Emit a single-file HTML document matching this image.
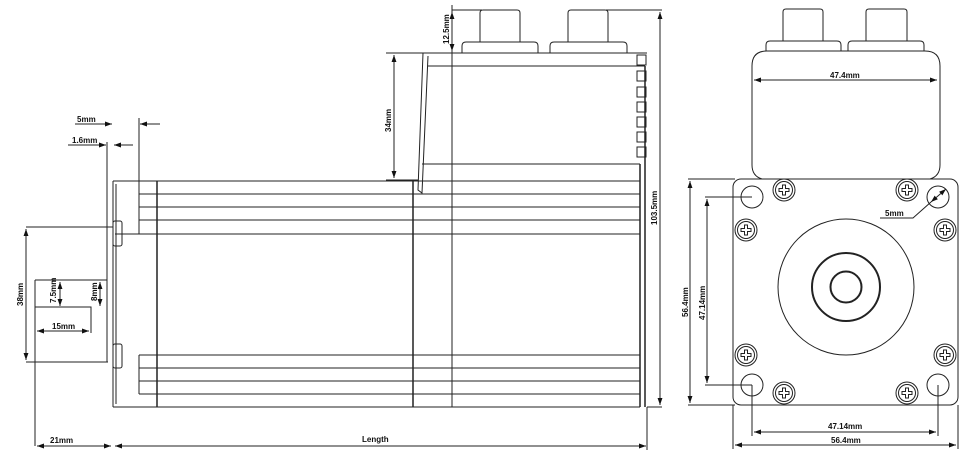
<!DOCTYPE html><html><head><style>body{margin:0;background:#fff}svg{display:block}text{font-family:"Liberation Sans",sans-serif;font-size:8px;font-weight:bold;fill:#111}</style></head><body>
<svg width="961" height="453" viewBox="0 0 961 453" xmlns="http://www.w3.org/2000/svg">
<defs><marker id="a" viewBox="0 0 10 10" refX="10" refY="5" markerWidth="7" markerHeight="7" orient="auto-start-reverse"><path d="M0,1.5L10,5L0,8.5z" fill="#111"/></marker>
<g id="s" fill="none" stroke="#222"><circle r="11"/><circle r="8.5"/><path d="M-1.5,-5 H1.5 V-1.5 H5 V1.5 H1.5 V5 H-1.5 V1.5 H-5 V-1.5 H-1.5 Z"/></g></defs>
<g stroke="#222" stroke-width="1" fill="none">
<path d="M113,181 H640 M139,194 H640 M139,207 H640 M139,220 H640 M115,234 H640"/>
<path d="M139,355 H640 M139,368 H640 M139,381 H640 M139,394 H640 M113,407 H640"/>
<path d="M113,181 V407 M116,184 V404 M139,194 V234 M139,355 V394"/>
<path d="M157,181 V407 M413,181 V407 M640,164 V407 M645,66 V407" stroke-width="1.5"/>
<rect x="113" y="221" width="9" height="25" rx="2"/><rect x="113" y="344" width="9" height="24" rx="2"/>
<path d="M26,227 H113 M26,362 H108 M107,142 V362 M35,280 V446 M35,280 H107 M35,307 H91 V333"/>
<path d="M423,53 H647 M428,66 H645 M422,164 H640 M423,53 L418,190 L422,193 L428,56 M418,180 H413"/>
<path d="M452,5 V407"/>
<path d="M462,53 V46 Q462,42 466,42 H534 Q538,42 538,46 V53 M550,53 V46 Q550,42 554,42 H623 Q627,42 627,46 V53"/>
<path d="M480,42 V13 Q480,10 483,10 H517 Q520,10 520,13 V42 M568,42 V13 Q568,10 571,10 H605 Q608,10 608,13 V42"/>
<rect x="637" y="55" width="9" height="10"/><rect x="637" y="71" width="9" height="10"/><rect x="637" y="87" width="9" height="10"/><rect x="637" y="102" width="9" height="10"/><rect x="637" y="117" width="9" height="10"/><rect x="637" y="132" width="9" height="10"/><rect x="637" y="147" width="9" height="10"/>
<line x1="75" y1="124" x2="112" y2="124" marker-end="url(#a)"/>
<line x1="160" y1="124" x2="140" y2="124" marker-end="url(#a)"/>
<path d="M139,118 V194"/>
<line x1="68" y1="145" x2="106" y2="145" marker-end="url(#a)"/>
<line x1="133" y1="145" x2="114" y2="145" marker-end="url(#a)"/>
<line x1="26" y1="229" x2="26" y2="360" marker-start="url(#a)" marker-end="url(#a)"/>
<line x1="60" y1="282" x2="60" y2="306" marker-start="url(#a)" marker-end="url(#a)"/>
<line x1="100" y1="282" x2="100" y2="306" marker-start="url(#a)" marker-end="url(#a)"/>
<line x1="37" y1="331" x2="89" y2="331" marker-start="url(#a)" marker-end="url(#a)"/>
<line x1="37" y1="446" x2="111" y2="446" marker-start="url(#a)" marker-end="url(#a)"/>
<line x1="115" y1="446" x2="646" y2="446" marker-start="url(#a)" marker-end="url(#a)"/>
<path d="M647,407 V450"/>
<line x1="394" y1="55" x2="394" y2="178" marker-start="url(#a)" marker-end="url(#a)"/>
<line x1="452" y1="12" x2="452" y2="51" marker-start="url(#a)" marker-end="url(#a)"/>
<path d="M386,53 H423 M386,180 H413 M452,10 H482 M606,10 H662 M647,407 H662"/>
<line x1="660" y1="12" x2="660" y2="405" marker-start="url(#a)" marker-end="url(#a)"/>
<rect x="733" y="179" width="225" height="226" rx="8"/>
<path d="M762,179 Q752,176 752,165 V66 Q752,51 767,51 H925 Q940,51 940,66 V165 Q940,176 930,179"/>
<path d="M766,51 V45 Q766,41 770,41 H837 Q841,41 841,45 V51 M848,51 V45 Q848,41 852,41 H920 Q924,41 924,45 V51"/>
<path d="M783,41 V12 Q783,9 786,9 H820 Q823,9 823,12 V41 M866,41 V12 Q866,9 869,9 H904 Q907,9 907,12 V41"/>
<circle cx="752" cy="197" r="11"/><circle cx="938" cy="197" r="11"/><circle cx="752" cy="385" r="11"/><circle cx="938" cy="385" r="11"/>
<circle cx="846" cy="287" r="68"/><circle cx="846" cy="287" r="34" stroke-width="2"/><circle cx="846" cy="287" r="15.5" stroke-width="2"/>
<line x1="754" y1="80" x2="937" y2="80" marker-start="url(#a)" marker-end="url(#a)"/>
<line x1="690" y1="181" x2="690" y2="403" marker-start="url(#a)" marker-end="url(#a)"/>
<line x1="707" y1="199" x2="707" y2="383" marker-start="url(#a)" marker-end="url(#a)"/>
<line x1="754" y1="432" x2="936" y2="432" marker-start="url(#a)" marker-end="url(#a)"/>
<line x1="735" y1="445" x2="956" y2="445" marker-start="url(#a)" marker-end="url(#a)"/>
<line x1="931" y1="202" x2="946" y2="189" marker-start="url(#a)" marker-end="url(#a)"/>
<path d="M688,179 H735 M688,405 H735 M705,197 H752 M705,385 H752 M752,385 V436 M938,385 V436 M733,405 V449 M958,405 V449 M880,218 H913 L931,202"/>
</g>
<use href="#s" x="784" y="190"/><use href="#s" x="907" y="190"/><use href="#s" x="746" y="230"/><use href="#s" x="945" y="230"/><use href="#s" x="746" y="355"/><use href="#s" x="945" y="355"/><use href="#s" x="784" y="393"/><use href="#s" x="907" y="393"/>
<text x="77" y="122">5mm</text><text x="72" y="143">1.6mm</text>
<text x="50" y="443">21mm</text><text x="362" y="442" font-size="10">Length</text>
<text x="52" y="329">15mm</text>
<text transform="translate(23,306) rotate(-90)">38mm</text>
<text transform="translate(56,303) rotate(-90)">7.5mm</text>
<text transform="translate(97,301) rotate(-90)">8mm</text>
<text transform="translate(391,132) rotate(-90)">34mm</text>
<text transform="translate(449,44) rotate(-90)">12.5mm</text>
<text transform="translate(657,225) rotate(-90)">103.5mm</text>
<text x="830" y="78">47.4mm</text>
<text x="885" y="216">5mm</text>
<text transform="translate(688,317) rotate(-90)">56.4mm</text>
<text transform="translate(705,320) rotate(-90)">47.14mm</text>
<text x="828" y="429">47.14mm</text>
<text x="831" y="443">56.4mm</text>
</svg></body></html>
